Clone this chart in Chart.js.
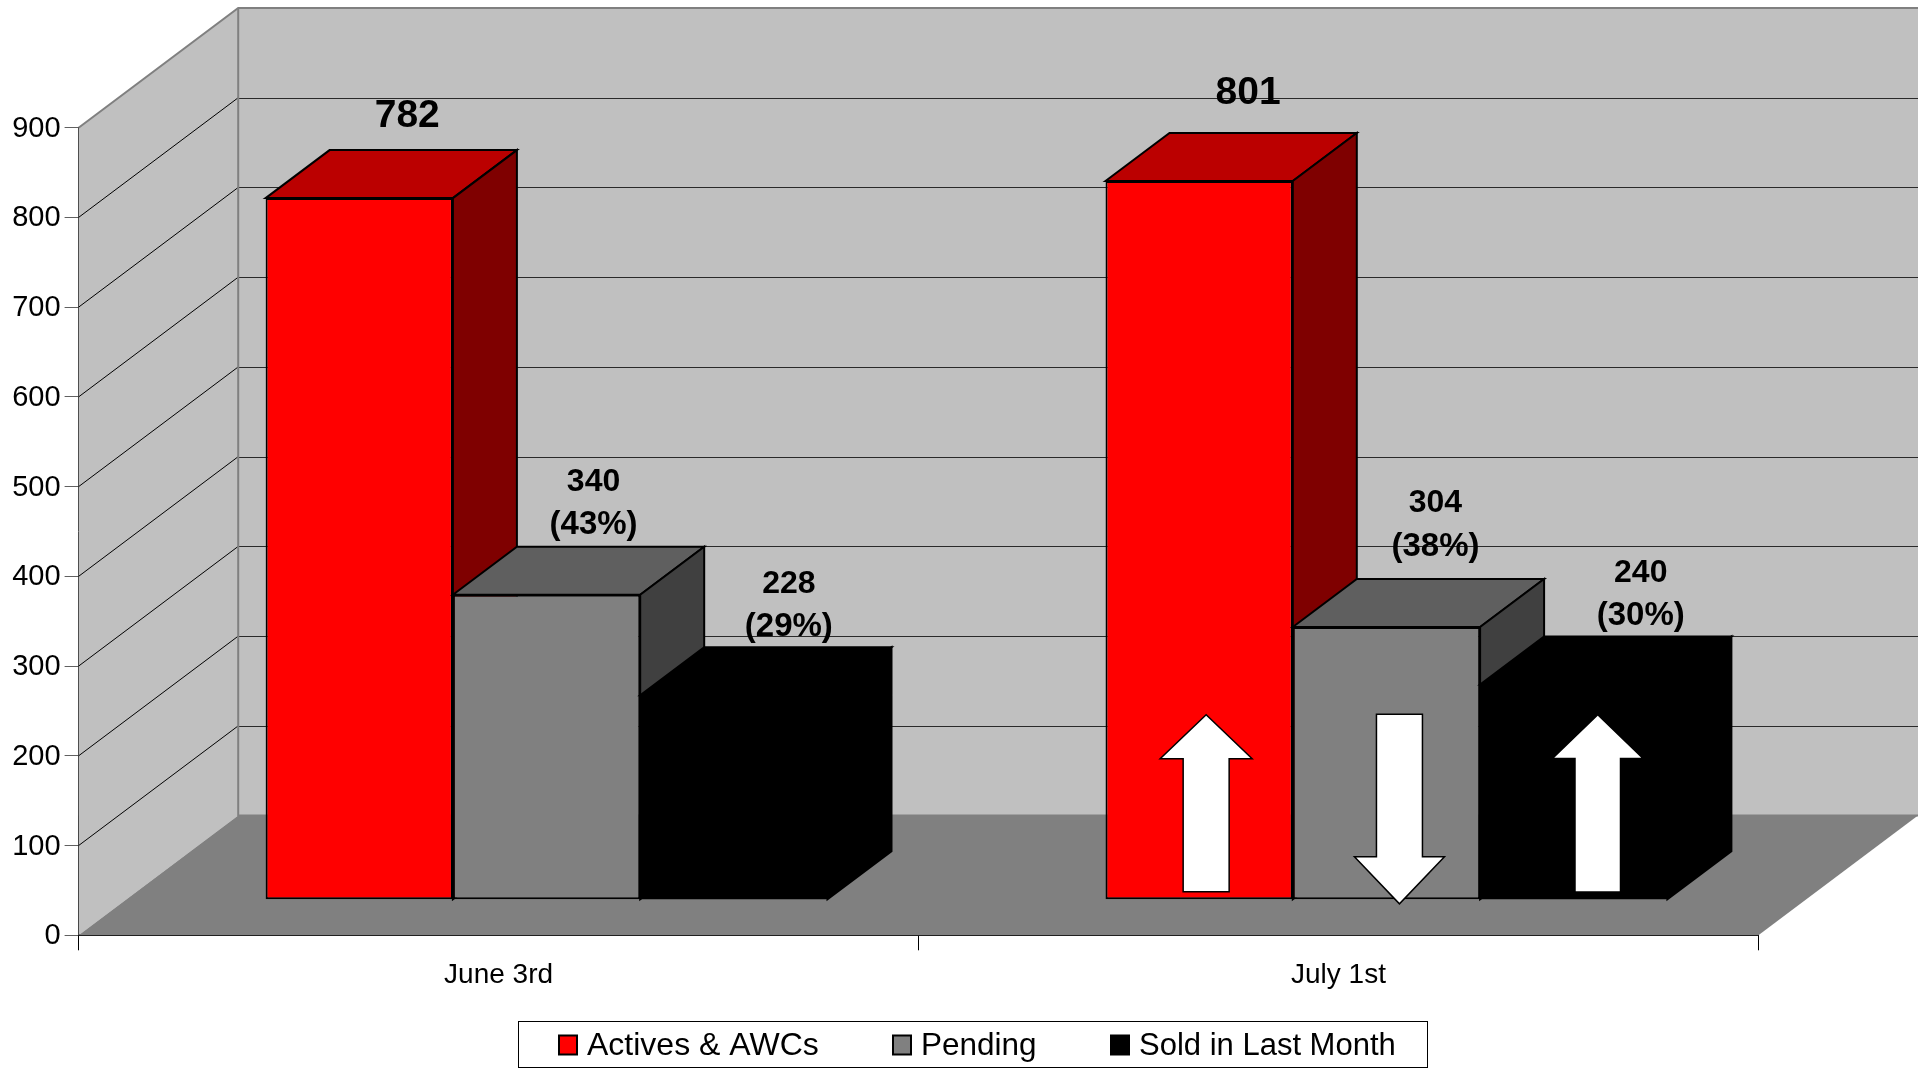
<!DOCTYPE html>
<html><head><meta charset="utf-8">
<style>html,body{margin:0;padding:0;background:#fff}canvas{display:block}</style>
<script src="https://cdn.jsdelivr.net/npm/chart.js@4"></script>
</head><body><canvas id="c" width="1926" height="1068"></canvas>
<script>
const categories = ['June 3rd', 'July 1st'];
const activesValues = [782, 801];
const pendingValues = [340, 304];
const soldValues = [228, 240];
const pendingPercent = ['(43%)', '(38%)'];
const soldPercent = ['(29%)', '(30%)'];
const yTickStep = 100;
const yMax = 900;
const seriesNames = ['Actives & AWCs', 'Pending', 'Sold in Last Month'];
const seriesFront = ['#ff0000', '#808080', '#000000'];
const seriesTop = ['#bb0000', '#5f5f5f', '#000000'];
const seriesSide = ['#7f0000', '#404040', '#000000'];
const seriesBorder = [2, 2, 0];

// direction of the change arrows on the second category, one per series
const changeArrows = ['up', 'down', 'up'];

const FONT = '"Liberation Sans", Arial, sans-serif';
const WALL_DX = 159.6, WALL_DY = 119.7;       // room depth
const BAR_SHIFT_X = 48, BAR_SHIFT_Y = 35.5;   // bar front plane within the room
const BAR_DX = 64, BAR_DY = 48;               // bar depth

// label offsets from the bar's front top-centre: [series][category] = [dx, dy first line]
const labelShift = [
  [[48, -81.5], [49, -87.5]],
  [[47, -112.5], [49, -123.5]],
  [[55, -111.5], [67, -111.5]]
];
const arrowStyle = [
  {dx: 7, head: 46, shaft: 23, stroke: true, from: 7.5, to: 184.5, neck: 140.5},
  {dx: 13, head: 45, shaft: 23, stroke: true, from: 185, to: -4.5, neck: 42.5},
  {dx: 24, head: 43.5, shaft: 22, stroke: false, from: 8, to: 183.5, neck: 141.5}
];

function poly(ctx, pts, fill, stroke, lw) {
  ctx.beginPath();
  pts.forEach((p, i) => i ? ctx.lineTo(p[0], p[1]) : ctx.moveTo(p[0], p[1]));
  ctx.closePath();
  if (fill) { ctx.fillStyle = fill; ctx.fill(); }
  if (stroke) { ctx.strokeStyle = stroke; ctx.lineWidth = lw; ctx.lineJoin = 'miter'; ctx.stroke(); }
}
function line(ctx, pts, color, lw) {
  ctx.beginPath();
  pts.forEach((p, i) => i ? ctx.lineTo(p[0], p[1]) : ctx.moveTo(p[0], p[1]));
  ctx.strokeStyle = color; ctx.lineWidth = lw; ctx.stroke();
}

const roomPlugin = {
  id: 'room',
  beforeDatasetsDraw(chart) {
    const {ctx, chartArea: a, scales: {y}} = chart;
    const L = a.left, R = a.right, T = y.getPixelForValue(yMax), B = y.getPixelForValue(0);
    ctx.save();
    poly(ctx, [[L, T], [L + WALL_DX, T - WALL_DY], [L + WALL_DX, B - WALL_DY], [L, B]], '#c0c0c0');
    poly(ctx, [[L + WALL_DX, T - WALL_DY], [R + WALL_DX, T - WALL_DY], [R + WALL_DX, B - WALL_DY], [L + WALL_DX, B - WALL_DY]], '#c0c0c0');
    poly(ctx, [[L, B], [L + WALL_DX, B - WALL_DY], [R + WALL_DX, B - WALL_DY], [R, B]], '#808080');
    y.ticks.forEach(t => {
      if (t.value === 0 || t.value === yMax) return;
      const p = y.getPixelForValue(t.value);
      const q = Math.round(p - WALL_DY) + 0.5;
      line(ctx, [[L, p], [L + WALL_DX, p - WALL_DY]], '#000', 1);
      line(ctx, [[L + WALL_DX, q], [R + WALL_DX, q]], '#2a2a2a', 1.2);
    });
    line(ctx, [[L, T], [L + WALL_DX, T - WALL_DY], [R + WALL_DX, T - WALL_DY]], '#808080', 2);
    line(ctx, [[L + WALL_DX, T - WALL_DY], [L + WALL_DX, B - WALL_DY], [R + WALL_DX, B - WALL_DY]], '#808080', 2);
    ctx.restore();
  },
  beforeDatasetDraw() { return false; },
  afterDatasetsDraw(chart) {
    const {ctx} = chart;
    ctx.save();
    ctx.translate(BAR_SHIFT_X, -BAR_SHIFT_Y);
    chart.data.datasets.forEach((ds, i) => {
      const meta = chart.getDatasetMeta(i);
      meta.data.forEach(el => {
        const l = el.x - el.width / 2, r = el.x + el.width / 2, t = el.y, b = el.base;
        poly(ctx, [[l, t], [l + BAR_DX, t - BAR_DY], [r + BAR_DX, t - BAR_DY], [r, t]], seriesTop[i], '#000', 2);
        poly(ctx, [[r, t], [r + BAR_DX, t - BAR_DY], [r + BAR_DX, b - BAR_DY], [r, b]], seriesSide[i], '#000', 2);
      });
      meta.controller.draw();
    });
    // change arrows on the last category
    changeArrows.forEach((dir, i) => {
      const el = chart.getDatasetMeta(i).data[1];
      const s = arrowStyle[i], cx = el.x + s.dx;
      const tail = el.base - s.from, tip = el.base - s.to, neck = el.base - s.neck;
      poly(ctx, [[cx - s.shaft, tail], [cx + s.shaft, tail], [cx + s.shaft, neck], [cx + s.head, neck],
        [cx, tip], [cx - s.head, neck], [cx - s.shaft, neck]], '#fff', s.stroke ? '#000' : null, 1.5);
    });
    ctx.restore();

    // value labels
    ctx.save();
    ctx.fillStyle = '#000';
    ctx.textAlign = 'center';
    ctx.textBaseline = 'middle';
    chart.data.datasets.forEach((ds, i) => {
      chart.getDatasetMeta(i).data.forEach((el, j) => {
        const [dx, dy] = labelShift[i][j];
        const x = el.x + BAR_SHIFT_X + dx, yy = el.y - BAR_SHIFT_Y + dy;
        if (i === 0) {
          ctx.font = 'bold 39px ' + FONT;
          ctx.fillText(String(ds.data[j]), x, yy);
        } else {
          ctx.font = 'bold 32px ' + FONT;
          ctx.fillText(String(ds.data[j]), x, yy);
          ctx.font = 'bold 33px ' + FONT;
          ctx.fillText((i === 1 ? pendingPercent : soldPercent)[j], x, yy + 43);
        }
      });
    });
    ctx.restore();
  },
  afterDraw(chart) {
    const {ctx} = chart;
    ctx.save();
    ctx.strokeStyle = '#000'; ctx.lineWidth = 1;
    ctx.fillStyle = '#fff';
    ctx.fillRect(518.5, 1021.5, 909, 46);
    ctx.strokeRect(518.5, 1021.5, 909, 46);
    const swatchX = [559, 893, 1111];
    const textX = [587, 921, 1139];
    const legendFontSize = [32, 31.5, 31];
    ctx.textBaseline = 'middle';
    ctx.textAlign = 'left';
    seriesNames.forEach((n, i) => {
      ctx.fillStyle = seriesFront[i];
      ctx.fillRect(swatchX[i], 1035.5, 18, 19);
      ctx.lineWidth = 2;
      ctx.strokeRect(swatchX[i], 1035.5, 18, 19);
      ctx.fillStyle = '#000';
      ctx.font = legendFontSize[i] + 'px ' + FONT;
      ctx.fillText(n, textX[i], 1046);
    });
    ctx.restore();
  }
};

new Chart(document.getElementById('c'), {
  type: 'bar',
  data: {
    labels: categories,
    datasets: [
      {label: seriesNames[0], data: activesValues, backgroundColor: seriesFront[0], borderWidth: seriesBorder[0]},
      {label: seriesNames[1], data: pendingValues, backgroundColor: seriesFront[1], borderWidth: seriesBorder[1]},
      {label: seriesNames[2], data: soldValues, backgroundColor: seriesFront[2], borderWidth: seriesBorder[2]}
    ].map(d => Object.assign(d, {borderColor: '#000', borderSkipped: false, categoryPercentage: 0.669, barPercentage: 1}))
  },
  options: {
    responsive: false,
    animation: false,
    devicePixelRatio: 1,
    layout: {padding: {top: 127.7, right: 167.6, left: 0, bottom: 0}},
    plugins: {legend: {display: false}, tooltip: {enabled: false}, title: {display: false}},
    scales: {
      x: {
        grid: {drawOnChartArea: false, drawTicks: true, tickLength: 15, tickColor: '#000', offset: true},
        border: {color: '#000', width: 2},
        ticks: {font: {family: FONT, size: 28}, color: '#000', padding: 8, maxRotation: 0},
        afterFit(s) { s.height = 132.7; }
      },
      y: {
        min: 0, max: yMax,
        grid: {drawOnChartArea: false, drawTicks: true, tickLength: 14, tickColor: '#606060'},
        border: {color: '#000', width: 1},
        ticks: {stepSize: yTickStep, font: {family: FONT, size: 29}, color: '#000', padding: 4, labelOffset: 1},
        afterFit(s) { s.width = 78.6; }
      }
    }
  },
  plugins: [roomPlugin]
});
</script></body></html>
